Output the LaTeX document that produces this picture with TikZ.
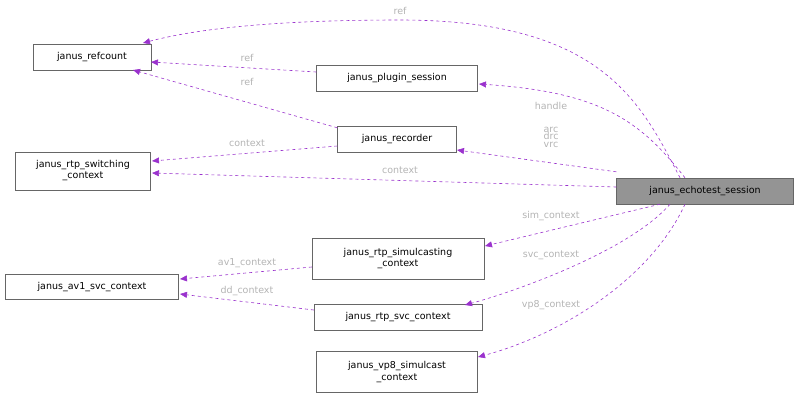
\documentclass[tikz,border=0pt]{standalone}
\usepackage{fontspec}
\setmainfont{DejaVu Sans}
\usetikzlibrary{arrows.meta}
\definecolor{edge}{HTML}{9A32CD}
\definecolor{lbl}{HTML}{B4B4B4}
\begin{document}
\begin{tikzpicture}[x=1pt,y=-1pt,
  box/.style={draw=black!60,fill=white,font=\fontsize{9.5}{11}\selectfont,inner sep=0pt,align=center},
  e/.style={draw=edge,line width=0.6pt,dashed,-{Triangle[length=7pt,width=6pt,fill=edge]}},
  l/.style={text=lbl,font=\fontsize{9.5}{9.5}\selectfont,align=center,inner sep=1pt}]
\useasboundingbox (0,0) rectangle (799,400);
\node[box,minimum width=118,minimum height=26] (rc) at (92,57) {janus\_refcount};
\node[box,minimum width=161,minimum height=26] (ps) at (397,78) {janus\_plugin\_session};
\node[box,minimum width=119,minimum height=26] (rec) at (397,139) {janus\_recorder};
\node[box,minimum width=135,minimum height=38] (sw) at (83,171) {janus\_rtp\_switching\\\_context};
\node[box,fill=black!42,minimum width=177,minimum height=26] (et) at (705,191) {janus\_echotest\_session};
\node[box,minimum width=172,minimum height=41] (sim) at (398,259) {janus\_rtp\_simulcasting\\\_context};
\node[box,minimum width=173,minimum height=25] (av1) at (92,287) {janus\_av1\_svc\_context};
\node[box,minimum width=168,minimum height=26] (svc) at (398,317) {janus\_rtp\_svc\_context};
\node[box,minimum width=161,minimum height=41] (vp8) at (397,372) {janus\_vp8\_simulcast\\\_context};

\draw[e] (et.north) ++(-25,0) .. controls (640,100) and (600,20) .. (400,20) .. controls (280,20) and (200,28) .. (143,43);
\node[l] at (400,11) {ref};
\draw[e] (et.north) ++(-20,0) .. controls (640,120) and (600,92) .. (479,84);
\node[l] at (551,106) {handle};
\draw[e] (et.north west) ++(0,-6) -- (457,150);
\node[l] at (551,137) {arc\\[-2pt]drc\\[-2pt]vrc};
\draw[e] (et.west) ++(0,-4) -- (152,173);
\node[l] at (400,170) {context};
\draw[e] (et.south) ++(-45,0) -- (485,246);
\node[l] at (551,216) {sim\_context};
\draw[e] (et.south) ++(-35,0) .. controls (630,250) and (520,290) .. (465,305);
\node[l] at (551,255) {svc\_context};
\draw[e] (et.south) ++(-20,0) .. controls (650,280) and (560,335) .. (478,357);
\node[l] at (551,305) {vp8\_context};
\draw[e] (ps.west) ++(0,-6) -- (151,62);
\node[l] at (247,58) {ref};
\draw[e] (rec.north west) ++(0,2) -- (133,70);
\node[l] at (247,82) {ref};
\draw[e] (rec.west) ++(0,7) -- (152,161);
\node[l] at (247,143) {context};
\draw[e] (sim.west) ++(0,8) -- (180,279);
\node[l] at (247,263) {av1\_context};
\draw[e] (svc.west) ++(0,-7) -- (180,294);
\node[l] at (247,291) {dd\_context};
\end{tikzpicture}
\end{document}
